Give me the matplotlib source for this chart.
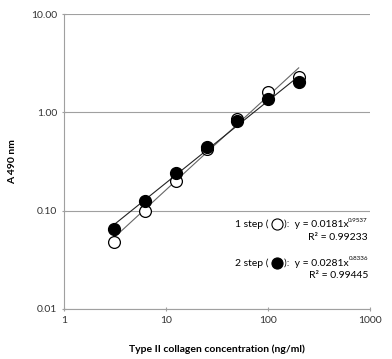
import numpy as np
import matplotlib.pyplot as plt
from matplotlib.ticker import FixedLocator, NullLocator

plt.rcParams['font.family'] = ['Lato', 'DejaVu Sans']
plt.rcParams['mathtext.fontset'] = 'custom'
plt.rcParams['mathtext.rm'] = 'Lato'
plt.rcParams['mathtext.it'] = 'Lato:italic'

# Концентрації та оптична густина
conc = [3.125, 6.25, 12.5, 25, 50, 100, 200]
a_step1 = [0.048, 0.10, 0.20, 0.42, 0.85, 1.62, 2.28]
a_step2 = [0.065, 0.126, 0.24, 0.44, 0.81, 1.36, 2.02]

# Коефіцієнти степеневих трендів y = a*x^b
fit1 = (0.0181, 0.9537)
fit2 = (0.0281, 0.8336)

W, H = 392, 359
fig = plt.figure(figsize=(W / 100, H / 100), dpi=100)
ax = fig.add_axes([64 / W, 1 - 309 / H, 306 / W, 295 / H])

xs = np.array([conc[0], conc[-1]])
ax.plot(xs, fit1[0] * xs ** fit1[1], color='#666666', lw=0.8, zorder=2)
ax.plot(xs, fit2[0] * xs ** fit2[1], color='#222222', lw=0.8, zorder=2)

ax.plot(conc, a_step1, 'o', ms=8.5, mfc='white', mec='black', mew=0.9, zorder=3)
ax.plot(conc, a_step2, 'o', ms=8.5, mfc='black', mec='black', zorder=4)

ax.set_xscale('log')
ax.set_yscale('log')
ax.set_xlim(1, 1000)
ax.set_ylim(0.01, 10)

ax.yaxis.set_major_locator(FixedLocator([0.01, 0.1, 1, 10]))
ax.yaxis.set_minor_locator(NullLocator())
ax.xaxis.set_minor_locator(NullLocator())
ax.set_yticklabels(['0.01', '0.10', '1.00', '10.00'])
ax.set_xticks([1, 10, 100, 1000])
ax.set_xticklabels(['1', '10', '100', '1000'])

ax.grid(axis='y', color='#a0a0a0', lw=0.8)
ax.set_axisbelow(True)
for s in ['top', 'right']:
    ax.spines[s].set_visible(False)
for s in ['left', 'bottom']:
    ax.spines[s].set_color('#a0a0a0')
ax.tick_params(colors='#a0a0a0', labelcolor='#333333', labelsize=7.5, length=3, direction='inout')

ax.set_xlabel('Type II collagen concentration (ng/ml)', fontsize=7.5, fontweight='bold', labelpad=14)
ax.set_ylabel('A 490 nm', fontsize=7.5, fontweight='bold', labelpad=10)

# Підписи рівнянь трендів (пікселі від верхнього лівого кута)
fig.canvas.draw()
r = fig.canvas.get_renderer()
for label, eq, sup, r2, y0, face in [('1 step (', '):  y = 0.0181x', '0.9537', 'R\u00b2 = 0.99233', 224, 'white'),
                                    ('2 step (', '):  y = 0.0281x', '0.8336', 'R\u00b2 = 0.99445', 263, 'black')]:
    ts = fig.text(368 / W, 1 - (y0 - 4) / H, sup, fontsize=4.5, ha='right', va='center')
    bs = ts.get_window_extent(r)
    t = fig.text(bs.x0 / W, 1 - y0 / H, eq, fontsize=7.5, ha='right', va='center')
    bb = t.get_window_extent(r)
    xm = bb.x0 - 7
    fig.lines.append(plt.Line2D([xm / W], [1 - y0 / H], marker='o', ms=8, mfc=face, mec='black',
                                mew=0.8, transform=fig.transFigure))
    fig.text((xm - 8) / W, 1 - y0 / H, label, fontsize=7.5, ha='right', va='center')
    fig.text(368 / W, 1 - (y0 + 13) / H, r2, fontsize=7.5, ha='right', va='center')

fig.savefig('out.png', dpi=100)
